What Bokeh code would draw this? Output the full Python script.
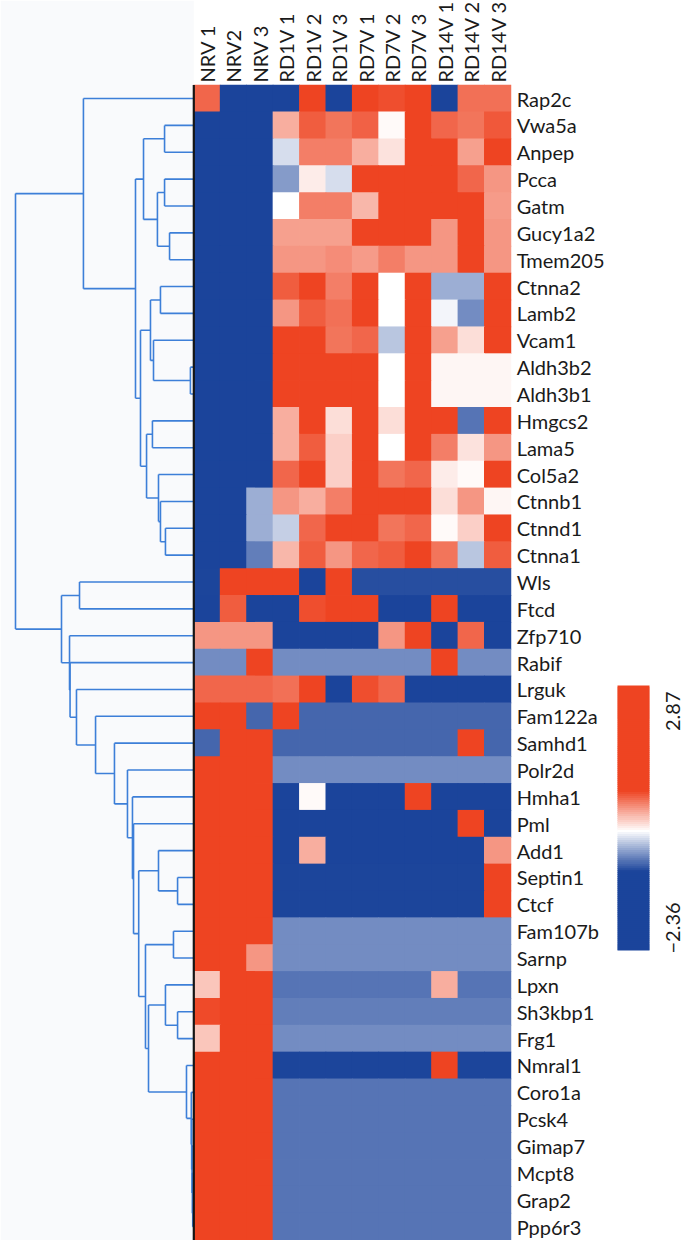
import numpy as np
from bokeh.plotting import figure
from bokeh.models import Range1d, ColumnDataSource, LinearColorMapper
from bokeh.transform import transform
from bokeh.core.properties import value
from bokeh.embed import file_html
from bokeh.resources import INLINE

# ---------------- data ----------------
samples = ["NRV 1", "NRV2", "NRV 3", "RD1V 1", "RD1V 2", "RD1V 3",
           "RD7V 1", "RD7V 2", "RD7V 3", "RD14V 1", "RD14V 2", "RD14V 3"]

genes = ["Rap2c", "Vwa5a", "Anpep", "Pcca", "Gatm", "Gucy1a2", "Tmem205",
         "Ctnna2", "Lamb2", "Vcam1", "Aldh3b2", "Aldh3b1", "Hmgcs2", "Lama5",
         "Col5a2", "Ctnnb1", "Ctnnd1", "Ctnna1", "Wls", "Ftcd", "Zfp710",
         "Rabif", "Lrguk", "Fam122a", "Samhd1", "Polr2d", "Hmha1", "Pml",
         "Add1", "Septin1", "Ctcf", "Fam107b", "Sarnp", "Lpxn", "Sh3kbp1",
         "Frg1", "Nmral1", "Coro1a", "Pcsk4", "Gimap7", "Mcpt8", "Grap2",
         "Ppp6r3"]

rap2c   = [0.65, -1.8, -1.8, -1.6, 2.87, -1.7, 1.4, 0.75, 1.3, -1.9, 0.62, 0.62]
vwa5a   = [-0.85, -1.8, -1.8, 0.35, 0.7, 0.6, 0.68, 0.02, 1.2, 0.65, 0.6, 0.72]
anpep   = [-0.85, -1.8, -1.8, -0.15, 0.55, 0.55, 0.35, 0.12, 1.3, 0.9, 0.4, 1.3]
pcca    = [-1.8, -1.8, -1.8, -0.42, 0.08, -0.15, 0.85, 1.5, 1.1, 1.3, 0.65, 0.45]
gatm    = [-1.8, -1.8, -1.8, 0.0, 0.55, 0.55, 0.3, 1.5, 1.2, 1.4, 0.82, 0.42]
gucy1a2 = [-1.8, -1.8, -1.8, 0.4, 0.4, 0.4, 1.3, 1.1, 1.2, 0.45, 1.4, 0.45]
tmem205 = [-1.8, -1.8, -1.8, 0.45, 0.45, 0.5, 0.42, 0.55, 0.45, 0.45, 1.3, 0.45]
ctnna2  = [-1.8, -1.8, -1.8, 0.7, 0.9, 0.55, 1.2, 0.0, 1.4, -0.35, -0.35, 1.3]
lamb2   = [-1.8, -1.8, -1.8, 0.45, 0.7, 0.62, 1.2, 0.0, 1.3, -0.05, -0.5, 1.3]
vcam1   = [-1.8, -1.8, -1.8, 1.0, 0.95, 0.6, 0.65, -0.25, 1.2, 0.4, 0.15, 1.2]
aldh3b2 = [-1.8, -1.8, -1.8, 1.3, 1.4, 1.3, 1.0, 0.0, 1.2, 0.05, 0.05, 0.05]
aldh3b1 = [-1.8, -1.8, -1.8, 1.3, 1.4, 1.3, 1.0, 0.0, 1.2, 0.05, 0.05, 0.05]
hmgcs2  = [-1.8, -1.8, -1.8, 0.35, 1.2, 0.15, 1.3, 0.15, 1.3, 1.3, -0.6, 1.3]
lama5   = [-1.8, -1.8, -1.8, 0.35, 0.7, 0.2, 1.3, 0.0, 1.2, 0.55, 0.12, 0.45]
col5a2  = [-1.8, -1.8, -1.8, 0.65, 1.2, 0.2, 1.3, 0.6, 0.65, 0.08, 0.03, 1.3]
ctnnb1  = [-1.8, -1.8, -0.35, 0.45, 0.35, 0.55, 1.2, 1.0, 1.1, 0.15, 0.45, 0.05]
ctnnd1  = [-1.8, -1.8, -0.35, -0.2, 0.65, 1.1, 1.2, 0.6, 0.65, 0.02, 0.2, 1.3]
ctnna1  = [-1.8, -1.8, -0.55, 0.3, 0.7, 0.45, 0.65, 0.7, 1.1, 0.6, -0.25, 0.7]
wls     = [-0.8, 1.5, 1.5, 1.5, -1.0, 1.5, -0.75, -0.75, -0.75, -0.75, -0.75, -0.75]
ftcd    = [-2.36, 0.7, -1.6, -1.6, 0.75, 1.1, 1.1, -1.6, -1.6, 1.2, -1.6, -1.6]
zfp710  = [0.45, 0.45, 0.45, -1.6, -1.6, -1.6, -1.6, 0.45, 1.2, -1.6, 0.65, -1.6]
rabif   = [-0.5, -0.5, 1.3, -0.5, -0.5, -0.5, -0.5, -0.5, -0.5, 1.3, -0.5, -0.5]
lrguk   = [0.65, 0.65, 0.65, 0.62, 1.2, -1.6, 0.75, 0.65, -1.6, -1.6, -1.6, -1.6]
fam122a = [1.5, 1.5, -0.65, 1.3, -0.65, -0.65, -0.65, -0.65, -0.65, -0.65, -0.65, -0.65]
samhd1  = [-0.65, 1.5, 1.5, -0.65, -0.65, -0.65, -0.65, -0.65, -0.65, -0.65, 1.3, -0.65]
polr2d  = [1.5, 1.5, 1.5, -0.5, -0.5, -0.5, -0.5, -0.5, -0.5, -0.5, -0.5, -0.5]
hmha1   = [1.5, 1.5, 1.5, -1.6, 0.02, -1.6, -1.6, -1.6, 1.2, -1.6, -1.6, -1.6]
pml     = [1.5, 1.5, 1.5, -0.85, -0.85, -0.85, -0.85, -0.85, -0.85, -0.85, 1.3, -0.85]
add1    = [1.5, 1.5, 1.5, -1.5, 0.35, -1.5, -1.5, -1.5, -1.5, -1.5, -1.5, 0.45]
septin1 = [1.5, 1.5, 1.5, -0.8, -0.8, -0.8, -0.8, -0.8, -0.8, -0.8, -0.8, 1.3]
ctcf    = [1.5, 1.5, 1.5, -0.8, -0.8, -0.8, -0.8, -0.8, -0.8, -0.8, -0.8, 1.3]
fam107b = [1.5, 1.5, 1.5, -0.5, -0.5, -0.5, -0.5, -0.5, -0.5, -0.5, -0.5, -0.5]
sarnp   = [1.5, 1.5, 0.45, -0.5, -0.5, -0.5, -0.5, -0.5, -0.5, -0.5, -0.5, -0.5]
lpxn    = [0.25, 1.5, 1.5, -0.6, -0.6, -0.6, -0.6, -0.6, -0.6, 0.35, -0.6, -0.6]
sh3kbp1 = [0.78, 1.5, 1.5, -0.55, -0.55, -0.55, -0.55, -0.55, -0.55, -0.55, -0.55, -0.55]
frg1    = [0.25, 1.5, 1.5, -0.5, -0.5, -0.5, -0.5, -0.5, -0.5, -0.5, -0.5, -0.5]
nmral1  = [1.5, 1.5, 1.5, -0.8, -0.8, -0.8, -0.8, -0.8, -0.8, 1.3, -0.8, -0.8]
coro1a  = [1.5, 1.5, 1.5, -0.6, -0.6, -0.6, -0.6, -0.6, -0.6, -0.6, -0.6, -0.6]
pcsk4   = [1.5, 1.5, 1.5, -0.6, -0.6, -0.6, -0.6, -0.6, -0.6, -0.6, -0.6, -0.6]
gimap7  = [1.5, 1.5, 1.5, -0.6, -0.6, -0.6, -0.6, -0.6, -0.6, -0.6, -0.6, -0.6]
mcpt8   = [1.5, 1.5, 1.5, -0.6, -0.6, -0.6, -0.6, -0.6, -0.6, -0.6, -0.6, -0.6]
grap2   = [1.5, 1.5, 1.5, -0.6, -0.6, -0.6, -0.6, -0.6, -0.6, -0.6, -0.6, -0.6]
ppp6r3  = [1.5, 1.5, 1.5, -0.6, -0.6, -0.6, -0.6, -0.6, -0.6, -0.6, -0.6, -0.6]

rows = [rap2c, vwa5a, anpep, pcca, gatm, gucy1a2, tmem205, ctnna2, lamb2,
        vcam1, aldh3b2, aldh3b1, hmgcs2, lama5, col5a2, ctnnb1, ctnnd1,
        ctnna1, wls, ftcd, zfp710, rabif, lrguk, fam122a, samhd1, polr2d,
        hmha1, pml, add1, septin1, ctcf, fam107b, sarnp, lpxn, sh3kbp1, frg1,
        nmral1, coro1a, pcsk4, gimap7, mcpt8, grap2, ppp6r3]

# colour scale limits
scale_low, scale_high = -2.36, 2.87
scale_labels = ["2.87", "\u22122.36"]

# row dendrogram: (node, left, right, merge height)
merges = [
    ("VA", "Vwa5a", "Anpep", 0.164),
    ("PG", "Pcca", "Gatm", 0.164),
    ("GT", "Gucy1a2", "Tmem205", 0.136),
    ("PGGT", "PG", "GT", 0.204),
    ("A1a", "VA", "PGGT", 0.282),
    ("CL", "Ctnna2", "Lamb2", 0.187),
    ("AA", "Aldh3b2", "Aldh3b1", 0.019),
    ("VAA", "Vcam1", "AA", 0.226),
    ("CLV", "CL", "VAA", 0.243),
    ("HL", "Hmgcs2", "Lama5", 0.232),
    ("C67", "Ctnnd1", "Ctnna1", 0.159),
    ("C5", "Ctnnb1", "C67", 0.187),
    ("C4", "Col5a2", "C5", 0.198),
    ("HLC", "HL", "C4", 0.265),
    ("A1b", "CLV", "HLC", 0.299),
    ("A1", "A1a", "A1b", 0.327),
    ("A", "Rap2c", "A1", 0.619),
    ("WF", "Wls", "Ftcd", 0.641),
    ("SC", "Septin1", "Ctcf", 0.091),
    ("ASC", "Add1", "SC", 0.198),
    ("FS", "Fam107b", "Sarnp", 0.114),
    ("SF", "Sh3kbp1", "Frg1", 0.091),
    ("LSF", "Lpxn", "SF", 0.159),
    ("G1", "Grap2", "Ppp6r3", 0.006),
    ("G2", "Mcpt8", "G1", 0.008),
    ("G3", "Gimap7", "G2", 0.010),
    ("G4", "Pcsk4", "G3", 0.012),
    ("G5", "Coro1a", "G4", 0.014),
    ("T2", "Nmral1", "G5", 0.041),
    ("LT", "LSF", "T2", 0.254),
    ("FSLT", "FS", "LT", 0.271),
    ("AF", "ASC", "FSLT", 0.309),
    ("K1", "Pml", "AF", 0.338),
    ("K2", "Hmha1", "K1", 0.344),
    ("K3", "Polr2d", "K2", 0.372),
    ("K4", "Samhd1", "K3", 0.445),
    ("K5", "Fam122a", "K4", 0.551),
    ("K6", "Lrguk", "K5", 0.658),
    ("K7", "Rabif", "K6", 0.694),
    ("K8", "Zfp710", "K7", 0.697),
    ("B", "WF", "K8", 0.742),
    ("Root", "A", "B", 1.0),
]

# ---------------- layout ----------------
W, H = 695, 1240
CW, RH = 26.42, 26.86          # px per column / row
X0, Y0 = 193.3, 84.6           # heatmap top-left inside the figure (px)
DEND_LEFT = 15.0               # px where height 1.0 sits

def fx(px):   # figure px -> data x
    return (px - X0) / CW

def fy(py):   # figure px -> data y (rows, centres at integers)
    return (py - Y0) / RH - 0.5

FONT = "Lato"
RED = (238, 68, 34)
BLUE = (27, 68, 155)
WHITE = (255, 255, 255)
SAT = 0.8

def blend(c1, c2, t):
    return "#%02x%02x%02x" % tuple(int(round(a + (b - a) * t)) for a, b in zip(c1, c2))

palette = []
N = 256
for i in range(N):
    v = scale_low + (i + 0.5) * (scale_high - scale_low) / N
    if v >= SAT:
        palette.append(blend(RED, RED, 0))
    elif v >= 0:
        palette.append(blend(WHITE, RED, v / SAT))
    elif v > -SAT:
        palette.append(blend(WHITE, BLUE, -v / SAT))
    else:
        palette.append(blend(BLUE, BLUE, 0))
mapper = LinearColorMapper(palette=palette, low=scale_low, high=scale_high)

p = figure(width=W, height=H, output_backend="svg", toolbar_location=None,
           x_range=Range1d(fx(0), fx(W)), y_range=Range1d(fy(H), fy(0)),
           min_border=0, x_axis_location=None, y_axis_location=None)
p.grid.visible = False
p.outline_line_color = None
p.background_fill_color = "white"
p.border_fill_color = "white"

# faint background behind dendrogram
p.quad(left=[fx(0)], right=[0], top=[fy(0)], bottom=[fy(H)],
       fill_color="#f9fafc", line_color=None)

# heatmap (cells slightly enlarged so no seams show)
xs, ys, vs = [], [], []
for r, row in enumerate(rows):
    for c, v in enumerate(row):
        xs.append(c + 0.5)
        ys.append(r)
        vs.append(v)
src = ColumnDataSource(dict(x=xs, y=ys, v=vs))
p.rect(x="x", y="y", width=1 + 0.8 / CW, height=1 + 0.8 / RH, source=src,
       fill_color=transform("v", mapper), line_color=None)

# dendrogram
S = (X0 - DEND_LEFT) / CW
pos = {g: (0.0, float(i)) for i, g in enumerate(genes)}
sx0, sy0, sx1, sy1 = [], [], [], []
for name, a, b, h in merges:
    ha, ya = pos[a]
    hb, yb = pos[b]
    xn = -h * S
    sx0 += [xn, xn, xn]
    sy0 += [ya, ya, yb]
    sx1 += [xn, -ha * S, -hb * S]
    sy1 += [yb, ya, yb]
    pos[name] = (h, (ya + yb) / 2)
p.segment(x0=sx0, y0=sy0, x1=sx1, y1=sy1, line_color="#3d7fd8", line_width=1.6)

# dark edge on heatmap left
p.segment(x0=[0], y0=[-0.5], x1=[0], y1=[len(genes) - 0.5],
          line_color="#151515", line_width=2.2)

# row labels
p.text(x=[12 + 0.22] * len(genes), y=list(range(len(genes))), text=genes,
       text_font=value(FONT), text_font_size="20px", text_color="#1a1a1a",
       text_baseline="middle", text_align="left")

# column labels
p.text(x=[c + 0.5 for c in range(len(samples))], y=[fy(82)] * len(samples),
       text=samples, angle=np.pi / 2, text_font=value(FONT),
       text_font_size="20px", text_color="#1a1a1a",
       text_baseline="middle", text_align="left")

# colour bar
cb_l, cb_r = fx(617), fx(649)
cb_t, cb_b = fy(685), fy(950)
NSTEP = 132
vals = np.linspace(scale_high, scale_low, NSTEP)
edges = np.linspace(cb_t, cb_b, NSTEP + 1)
overlap = 0.9 / RH
bottoms = edges[1:] + overlap
bottoms[-1] = edges[-1]
cbsrc = ColumnDataSource(dict(top=edges[:-1], bottom=bottoms, v=vals))
p.quad(left=cb_l, right=cb_r, top="top", bottom="bottom", source=cbsrc,
       fill_color=transform("v", mapper), line_color=None)

p.text(x=[fx(672), fx(672)], y=[fy(691), fy(953)], text=scale_labels,
       angle=np.pi / 2, text_font=value(FONT), text_font_size="20px",
       text_color="#1a1a1a", text_baseline="middle",
       text_align=["right", "left"])

open("out.html", "w").write(file_html(p, INLINE))
